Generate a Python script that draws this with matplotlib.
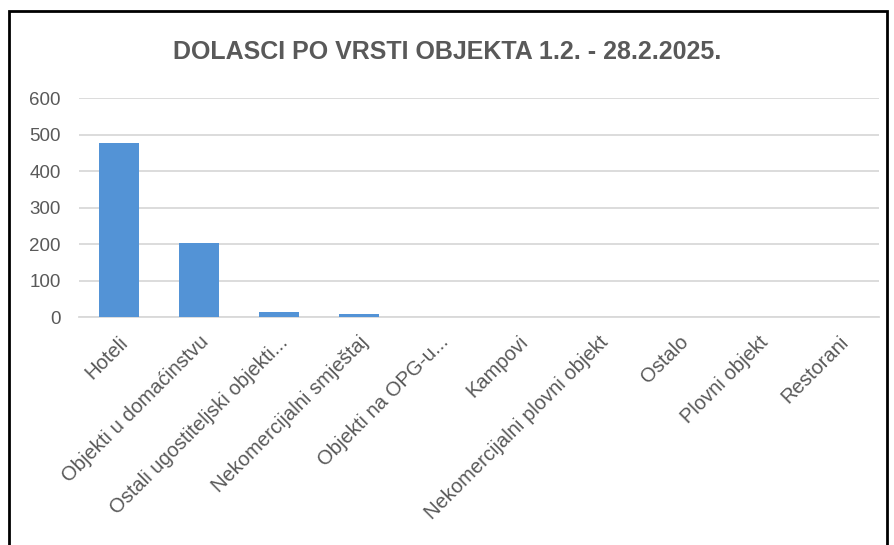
import matplotlib
matplotlib.use("Agg")
import matplotlib.pyplot as plt
from matplotlib.patches import Rectangle

plt.rcParams['font.family'] = ['Liberation Sans', 'DejaVu Sans']

kategorije = ['Hoteli', 'Objekti u domaćinstvu', 'Ostali ugostiteljski objekti...',
              'Nekomercijalni smještaj', 'Objekti na OPG-u...', 'Kampovi',
              'Nekomercijalni plovni objekt', 'Ostalo', 'Plovni objekt', 'Restorani']
dolasci = [478, 203, 13, 9, 1, 1, 1, 1, 1, 1]

siva = '#595959'

fig = plt.figure(figsize=(8.95, 5.45), dpi=100)
ax = fig.add_axes([0.088, 0.418, 0.894, 0.402])

x = range(len(kategorije))
ax.bar(x, dolasci, width=0.5, color='#5393d6', zorder=3)

ax.set_ylim(0, 600)
ax.set_xlim(-0.5, len(kategorije) - 0.5)
ax.set_yticks(range(0, 601, 100))
ax.yaxis.grid(True, color='#d9d9d9', linewidth=1.3, zorder=0)
for s in ['top', 'right', 'left']:
    ax.spines[s].set_visible(False)
ax.spines['bottom'].set_color('#d9d9d9')
ax.spines['bottom'].set_linewidth(1.3)
ax.tick_params(length=0, colors=siva)
ax.tick_params(axis='y', pad=13, labelsize=13.5)
ax.tick_params(axis='x', pad=11, labelsize=14.5)
ax.set_xticks(list(x))
ax.set_xticklabels(kategorije, rotation=45, ha='right', rotation_mode='anchor')

fig.text(0.5, 0.905, 'DOLASCI PO VRSTI OBJEKTA 1.2. - 28.2.2025.', ha='center', va='center',
         fontsize=18, color=siva, fontweight='bold')

# okvir
fig.patches.append(Rectangle((9 / 895, -0.05), 878 / 895, 1 - 11 / 545 + 0.05,
                             transform=fig.transFigure, fill=False, edgecolor='black', linewidth=2))

plt.savefig('out.png', dpi=100)
